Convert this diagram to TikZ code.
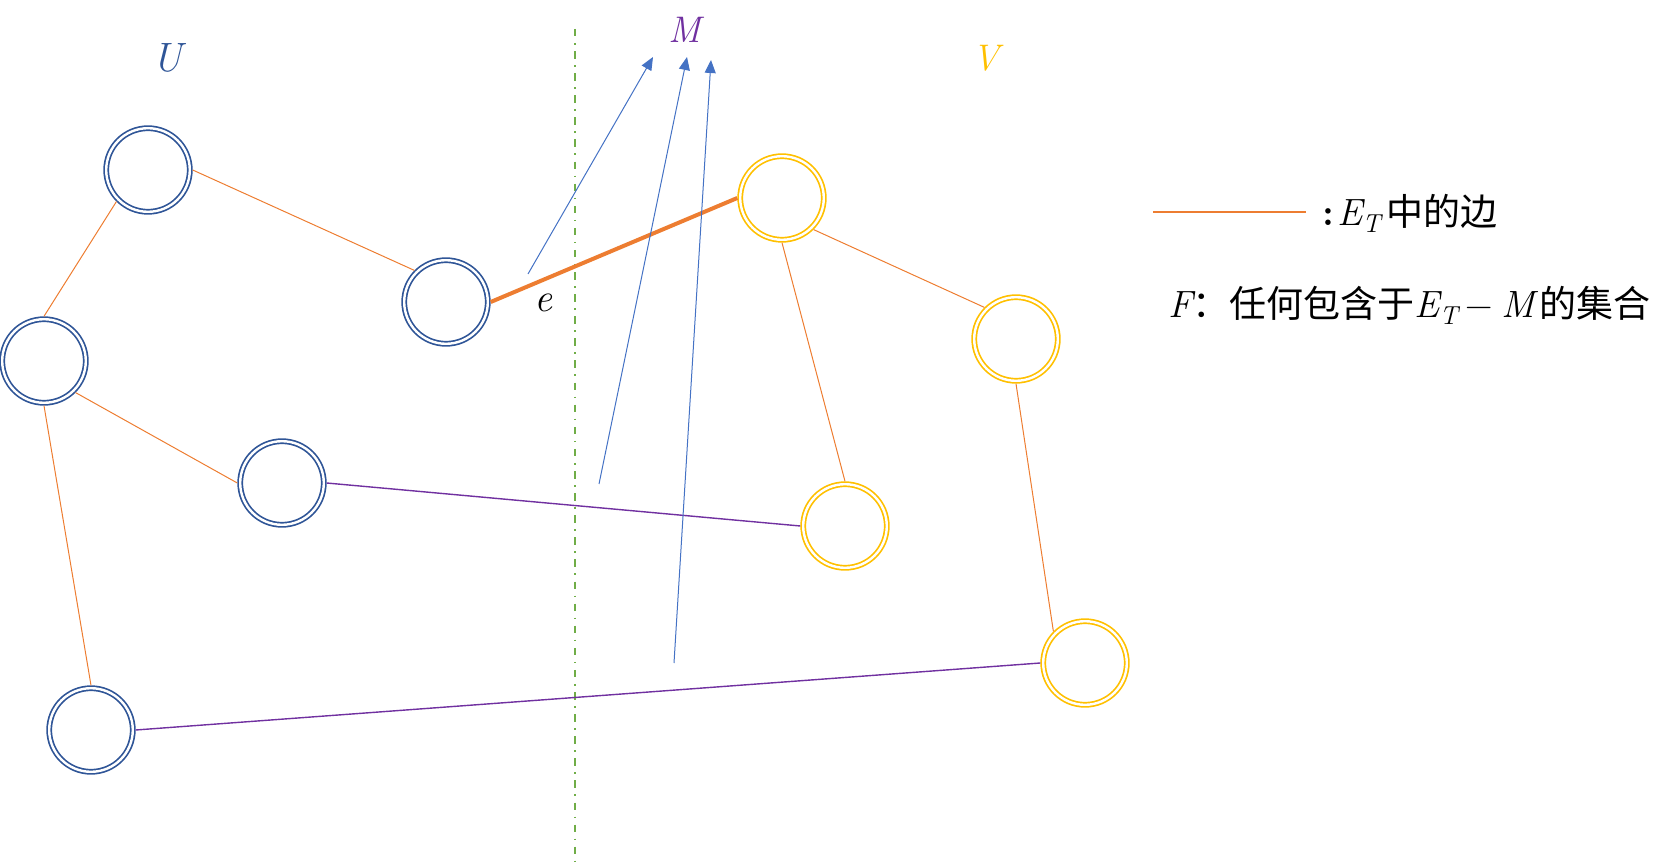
\documentclass[tikz,border=0pt]{standalone}
\usepackage{fontspec}
\newfontfamily\cjk{Noto Sans CJK SC}
\usetikzlibrary{arrows.meta}
\definecolor{ublue}{HTML}{2F5597}
\definecolor{vyellow}{HTML}{FFC000}
\definecolor{eorange}{HTML}{ED7D31}
\definecolor{cgreen}{HTML}{70AD47}
\definecolor{abblue}{HTML}{4472C4}
\definecolor{mpurple}{HTML}{7030A0}
\newcommand{\myET}{{\itshape E}\raisebox{-7pt}{\fontsize{26}{28}\selectfont\itshape T}}
\begin{document}
\begin{tikzpicture}[x=1pt,y=-1pt,
  vtx/.style={circle, double=white, line width=1.7pt, double distance=2.4pt,
    minimum size=83.6pt, inner sep=0pt, outer sep=2.9pt},
  unode/.style={vtx, draw=ublue},
  vnode/.style={vtx, draw=vyellow},
  tedge/.style={draw=eorange, line width=1pt},
  eedge/.style={draw=eorange, line width=4pt},
  pedge/.style={draw=mpurple, line width=1.4pt},
  marrow/.style={draw=abblue, line width=1pt, -{Triangle[length=13pt,width=11pt]}},
  cut/.style={draw=cgreen, line width=2pt, dash pattern=on 7.5pt off 6.5pt on 1.6pt off 6.5pt},
  biglabel/.style={font=\fontsize{37}{40}\selectfont\itshape, inner sep=0pt}
]
\useasboundingbox (0,0) rectangle (1676,866);

% cut line
\coordinate (ct) at (575,29);
\coordinate (cb) at (575,866);
\draw[cut] (ct) -- (cb);

% labels
\node[biglabel, text=ublue] (lU) at (167,58) {\fontsize{41}{44}\selectfont U};
\node[biglabel, text=mpurple] (lM) at (685,30) {M};
\node[biglabel, text=vyellow] (lV) at (986,58) {V};

% nodes
\node[unode] (b1) at (148,170) {};
\node[unode] (b2) at (446,302) {};
\node[unode] (b3) at (44,361) {};
\node[unode] (b4) at (282,483) {};
\node[unode] (b5) at (91,730) {};
\node[vnode] (y1) at (782,198) {};
\node[vnode] (y2) at (1016,339) {};
\node[vnode] (y3) at (845,526) {};
\node[vnode] (y4) at (1085,663) {};

% edges of E_T
\draw[tedge] (b1.east) -- (b2.north west);
\draw[tedge] (b1.south west) -- (b3.north);
\draw[tedge] (b3.south east) -- (b4.west);
\draw[tedge] (b3.south) -- (b5.north);
\draw[tedge] (y1.south east) -- (y2.north west);
\draw[tedge] (y1.south) -- (y3.north);
\draw[tedge] (y2.south) -- (y4.north west);
\draw[eedge] (b2.east) -- (y1.west);
\draw[pedge] (b4.east) -- (y3.west);
\draw[pedge] (b5.east) -- (y4.west);

\node[biglabel] (le) at (543,303) {\fontsize{40}{44}\selectfont e};

% arrows to M
\coordinate (a1s) at (528,274);
\coordinate (a1e) at (653,57);
\coordinate (a2s) at (599,484);
\coordinate (a2e) at (687,57);
\coordinate (a3s) at (674,663);
\coordinate (a3e) at (711,60);
\draw[marrow] (a1s) -- (a1e);
\draw[marrow] (a2s) -- (a2e);
\draw[marrow] (a3s) -- (a3e);

% legend
\coordinate (lgs) at (1153,212);
\coordinate (lge) at (1306,212);
\draw[draw=eorange, line width=1.3pt] (lgs) -- (lge);
\node[anchor=base west, inner sep=0pt] (leg1) at (1322,226)
  {\fontsize{38}{42}\selectfont\textbf{:}\hspace{3pt}\myET\hspace{6pt}{\cjk\fontsize{37}{44}\selectfont 中的边}};
\node[anchor=base west, inner sep=0pt] (leg2) at (1168,318)
  {\fontsize{38}{42}\selectfont{\itshape F}{\cjk\fontsize{37}{44}\selectfont：任何包含于}\myET\hspace{8pt}−\hspace{8pt}{\itshape M}\hspace{5pt}{\cjk\fontsize{37}{44}\selectfont 的集合}};
\end{tikzpicture}
\end{document}
